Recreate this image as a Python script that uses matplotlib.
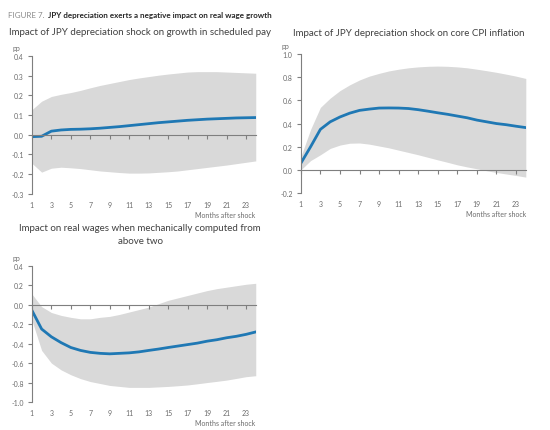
import numpy as np
import matplotlib.pyplot as plt

plt.rcParams['font.family'] = ['Lato', 'DejaVu Sans']

months = np.arange(1, 25)
xticks = [1, 3, 5, 7, 9, 11, 13, 15, 17, 19, 21, 23]

# scheduled pay
pay_mid = [-0.01, -0.008, 0.018, 0.024, 0.027, 0.028, 0.03, 0.033, 0.037, 0.041, 0.046, 0.051,
           0.056, 0.061, 0.065, 0.069, 0.073, 0.076, 0.079, 0.081, 0.083, 0.085, 0.086, 0.087]
pay_hi = [0.127, 0.17, 0.194, 0.205, 0.214, 0.225, 0.238, 0.25, 0.26, 0.27, 0.28, 0.288,
          0.295, 0.302, 0.308, 0.313, 0.318, 0.32, 0.32, 0.32, 0.318, 0.316, 0.314, 0.312]
pay_lo = [-0.145, -0.19, -0.17, -0.165, -0.168, -0.172, -0.178, -0.184, -0.188, -0.192, -0.195, -0.195,
          -0.194, -0.191, -0.188, -0.184, -0.178, -0.172, -0.166, -0.16, -0.154, -0.147, -0.14, -0.133]

# core CPI
cpi_mid = [0.057, 0.2, 0.35, 0.415, 0.457, 0.49, 0.514, 0.525, 0.534, 0.535, 0.534, 0.53,
           0.52, 0.507, 0.493, 0.48, 0.465, 0.45, 0.43, 0.415, 0.4, 0.39, 0.377, 0.365]
cpi_hi = [0.114, 0.35, 0.54, 0.62, 0.685, 0.735, 0.777, 0.81, 0.834, 0.855, 0.87, 0.882,
          0.89, 0.895, 0.897, 0.895, 0.89, 0.882, 0.87, 0.857, 0.843, 0.827, 0.81, 0.79]
cpi_lo = [0.0, 0.08, 0.13, 0.185, 0.214, 0.23, 0.232, 0.222, 0.206, 0.19, 0.17, 0.15,
          0.13, 0.108, 0.086, 0.065, 0.043, 0.025, 0.009, -0.008, -0.023, -0.036, -0.049, -0.063]

# real wages
rw_mid = [-0.058, -0.25, -0.33, -0.39, -0.44, -0.47, -0.49, -0.5, -0.505, -0.5, -0.495, -0.485,
          -0.47, -0.456, -0.44, -0.425, -0.41, -0.395, -0.375, -0.36, -0.34, -0.325, -0.305, -0.28]
rw_hi = [0.11, -0.02, -0.08, -0.11, -0.13, -0.145, -0.145, -0.13, -0.12, -0.1, -0.075, -0.05,
         -0.025, 0.01, 0.045, 0.07, 0.095, 0.12, 0.145, 0.165, 0.18, 0.195, 0.21, 0.22]
rw_lo = [-0.16, -0.47, -0.6, -0.67, -0.72, -0.76, -0.79, -0.81, -0.83, -0.84, -0.85, -0.85,
         -0.85, -0.845, -0.84, -0.833, -0.825, -0.813, -0.8, -0.788, -0.775, -0.758, -0.74, -0.73]

blue = '#1f78b4'
band = '#d9d9d9'
axcol = '#7f7f7f'
txt = '#404040'
lbl = '#6b6b6b'

fig = plt.figure(figsize=(5.5, 4.31), dpi=100)


def panel(rect, mid, lo, hi, ylim, yticks):
    ax = fig.add_axes(rect)
    ax.fill_between(months, lo, hi, color=band, lw=0)
    ax.plot(months, mid, color=blue, lw=2)
    ax.set_xlim(1, 24)
    ax.set_ylim(*ylim)
    ax.set_yticks(yticks)
    ax.set_yticklabels(['%.1f' % v for v in yticks])
    ax.set_xticks(xticks)
    for s in ['top', 'right']:
        ax.spines[s].set_visible(False)
    ax.spines['left'].set_color(axcol)
    ax.spines['left'].set_linewidth(0.8)
    ax.spines['bottom'].set_position(('data', 0))
    ax.spines['bottom'].set_color(axcol)
    ax.spines['bottom'].set_linewidth(0.8)
    ax.tick_params(axis='x', direction='out', length=3, color=axcol, labelbottom=False)
    ax.tick_params(axis='y', direction='out', length=3, color=axcol, labelsize=5, labelcolor=lbl, pad=3)
    sec = ax.secondary_xaxis('bottom')
    sec.set_xticks(xticks)
    sec.spines['bottom'].set_visible(False)
    sec.tick_params(length=0, labelsize=5, labelcolor=lbl, pad=5)
    ax.annotate('Months after shock', (1.0, 0.0), xycoords='axes fraction', xytext=(0, -15),
                textcoords='offset points', ha='right', va='center', fontsize=5, color=lbl)
    ax.annotate('pp', (0.0, 1.0), xycoords='axes fraction', xytext=(-11, 6),
                textcoords='offset points', ha='center', va='center', fontsize=5, color=lbl)
    return ax


panel([0.058, 0.548, 0.407, 0.320], pay_mid, pay_lo, pay_hi, (-0.3, 0.4),
      [-0.3, -0.2, -0.1, 0.0, 0.1, 0.2, 0.3, 0.4])
panel([0.547, 0.550, 0.409, 0.322], cpi_mid, cpi_lo, cpi_hi, (-0.2, 1.0),
      [-0.2, 0.0, 0.2, 0.4, 0.6, 0.8, 1.0])
panel([0.058, 0.065, 0.407, 0.316], rw_mid, rw_lo, rw_hi, (-1.0, 0.4),
      [-1.0, -0.8, -0.6, -0.4, -0.2, 0.0, 0.2, 0.4])

fig.text(0.015, 0.965, 'FIGURE 7.', fontsize=5.8, color='#8c8c8c', va='center')
fig.text(0.087, 0.965, 'JPY depreciation exerts a negative impact on real wage growth',
         fontsize=5.8, color='#262626', fontweight='bold', va='center')
fig.text(0.255, 0.925, 'Impact of JPY depreciation shock on growth in scheduled pay',
         fontsize=7, color=txt, ha='center', va='center')
fig.text(0.743, 0.923, 'Impact of JPY depreciation shock on core CPI inflation',
         fontsize=7, color=txt, ha='center', va='center')
fig.text(0.255, 0.455, 'Impact on real wages when mechanically computed from\nabove two',
         fontsize=7, color=txt, ha='center', va='center', linespacing=1.5)

fig.savefig('out.png', dpi=100)
